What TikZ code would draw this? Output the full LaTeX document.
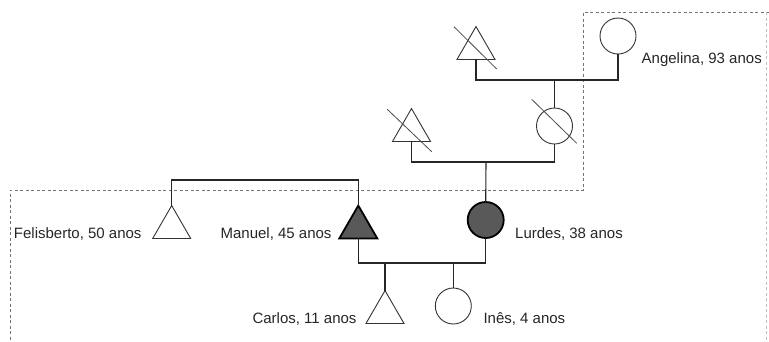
\documentclass[tikz,border=0pt]{standalone}
\usepackage{fontspec}
\setmainfont{Liberation Sans}
\usetikzlibrary{shapes.geometric}
\tikzset{
  male/.style={regular polygon, regular polygon sides=3, minimum size=43.9pt, inner sep=0pt, outer sep=0pt, draw=black!80, line width=0.9pt, fill=white},
  female/.style={circle, minimum size=36pt, inner sep=0pt, outer sep=0pt, draw=black!80, line width=0.9pt, fill=white},
  index/.style={fill=black!65, draw=black, line width=1.8pt},
  link/.style={draw=black!85, line width=1.1pt},
  dead/.style={draw=black!70, line width=0.8pt},
  zone/.style={draw=black!55, line width=0.8pt, dash pattern=on 3pt off 2.5pt},
  lbl/.style={font=\fontsize{15}{17}\selectfont, inner sep=0pt, text=black!85}
}
\begin{document}
\begin{tikzpicture}[x=1pt,y=-1pt]
\useasboundingbox (0,0) rectangle (769,341);
% dashed zone
\draw[zone] (769,12) -- (583,12) -- (583,190) -- (10,190) -- (10,341);
\draw[zone, draw=black!25] (766,12) -- (766,341);
% people
\node[male] (avo) at (476,48.5) {};
\node[female] (angelina) at (618,36) {};
\node[female] (mae) at (554.5,126) {};
\node[male] (pai) at (411.5,130.5) {};
\node[female, index] (lurdes) at (485.7,220) {};
\node[male] (felis) at (171.7,227.5) {};
\node[male, index] (manuel) at (358.3,227.5) {};
\node[male] (carlos) at (385,312.5) {};
\node[female] (ines) at (453.3,306) {};
% deceased marks
\draw[dead] ([shift={(-22,-21.8)}]avo.center) -- ([shift={(20.7,20.5)}]avo.center);
\draw[dead] ([shift={(-24.2,-21.2)}]pai.center) -- ([shift={(20.2,21.2)}]pai.center);
\draw[dead] ([shift={(-22.8,-26.7)}]mae.center) -- ([shift={(22.2,17.3)}]mae.center);
% connectors
\coordinate (m1) at (554.5,80);
\coordinate (m2) at (486,162);
\coordinate (s1) at (265,180);
\coordinate (m3) at (420,263);
\draw[link] (avo.side 2) |- (m1) -| (angelina.south);
\draw[link] (m1) -- (mae.north);
\draw[link] (pai.side 2) |- (m2) -| (mae.south);
\draw[link] (m2) -- (lurdes.north);
\draw[link] (felis.corner 1) |- (s1) -| (manuel.corner 1);
\draw[link] (manuel.side 2) |- (m3) -| (lurdes.south);
\draw[link] (carlos.corner 1) -- (carlos.corner 1 |- m3);
\draw[link] (ines.north) -- (ines.north |- m3);
% labels
\node[lbl, anchor=base west] (tangelina) at (641.5,63) {Angelina, 93 anos};
\node[lbl, anchor=base west] (tlurdes) at (515,238) {Lurdes, 38 anos};
\node[lbl, anchor=base east] (tfelis) at (141.7,238) {Felisberto, 50 anos};
\node[lbl, anchor=base east] (tmanuel) at (331.7,238) {Manuel, 45 anos};
\node[lbl, anchor=base east] (tcarlos) at (356.7,323) {Carlos, 11 anos};
\node[lbl, anchor=base west] (tines) at (483.3,323) {Inês, 4 anos};
\end{tikzpicture}
\end{document}
